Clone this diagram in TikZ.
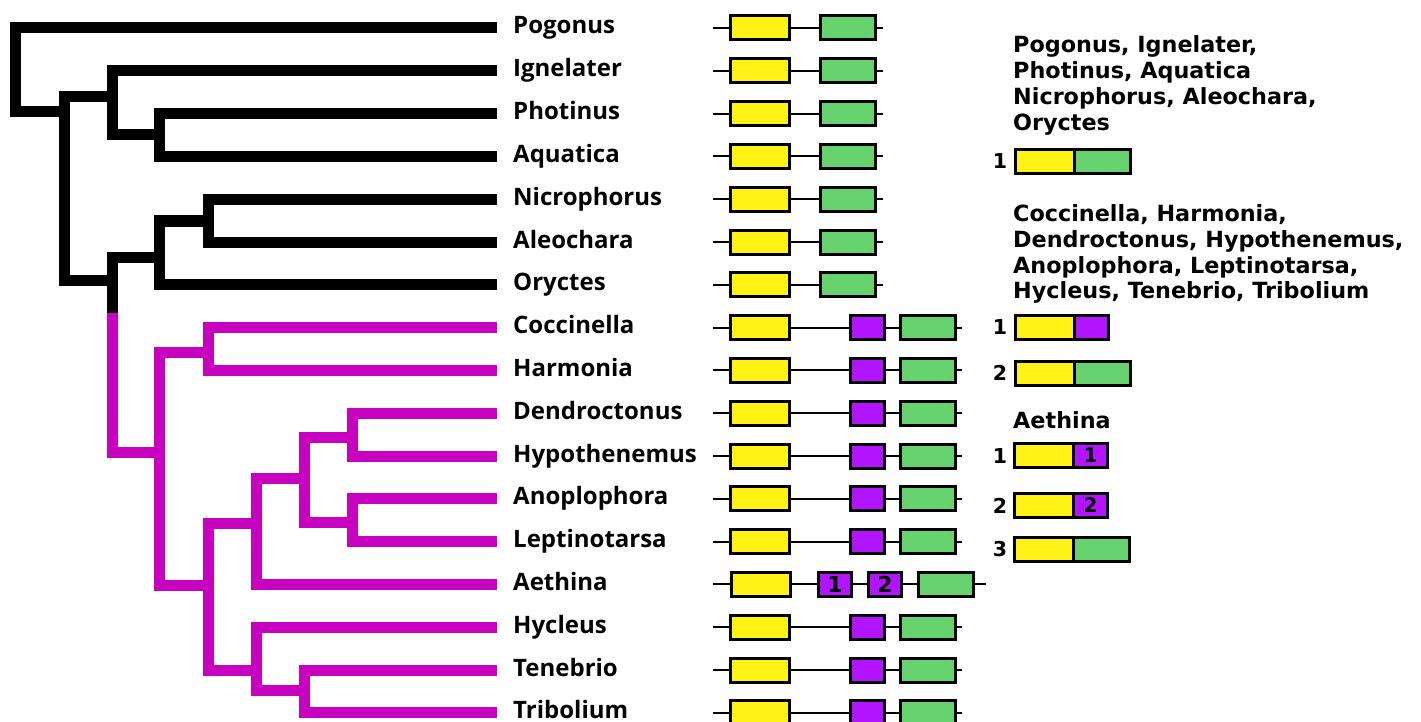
\documentclass[tikz,border=0pt]{standalone}
\usepackage{fontspec}
\newfontfamily\lblfont{Open Sans}
\newfontfamily\djfont{DejaVu Sans}
\definecolor{gyel}{HTML}{FFF316}
\definecolor{ggreen}{HTML}{66D36E}
\definecolor{gpurp}{HTML}{B314FF}
\definecolor{treemag}{HTML}{C800C0}
\begin{document}
\begin{tikzpicture}[x=1pt,y=-1pt,
  br/.style={line width=11pt, line join=miter, line cap=butt},
  blk/.style={br, draw=black},
  mag/.style={br, draw=treemag},
  lbl/.style={anchor=base west, font=\lblfont\bfseries\fontsize{24}{28}\selectfont, inner sep=0pt},
  rtxt/.style={anchor=base west, font=\djfont\bfseries\fontsize{22.3}{26}\selectfont, inner sep=0pt},
  num/.style={anchor=base, font=\djfont\bfseries\fontsize{20.5}{24}\selectfont, inner sep=0pt},
  box/.style={draw=black, line width=3pt, inner sep=0pt, minimum height=24pt, anchor=center},
  ybox/.style={box, fill=gyel, minimum width=59pt},
  gbox/.style={box, fill=ggreen, minimum width=55pt},
  pbox/.style={box, fill=gpurp, minimum width=34pt},
  lgbox/.style={box, fill=ggreen, minimum width=56pt},
  dig/.style={font=\djfont\bfseries\fontsize{22}{22}\selectfont},
  gline/.style={line width=2pt, draw=black},
]
\useasboundingbox (0,0) rectangle (1421,722);

% leaves and labels
\foreach \n/\t [count=\i from 0] in {pog/Pogonus, ign/Ignelater, pho/Photinus, aqu/Aquatica, nic/Nicrophorus, ale/Aleochara, ory/Oryctes, coc/Coccinella, har/Harmonia, den/Dendroctonus, hyp/Hypothenemus, ano/Anoplophora, lep/Leptinotarsa, aet/Aethina, hyc/Hycleus, ten/Tenebrio, tri/Tribolium} {
  \coordinate (\n) at (497, 28+42.8*\i);
  \node[lbl] (\n-l) at (513, 34+42.8*\i) {\t};
}

% internal nodes
\coordinate (R) at (15,70);
\coordinate (A) at (64,112);
\coordinate (B) at (112,97);
\coordinate (C) at (159,135);
\coordinate (D) at (112,280);
\coordinate (Dsplit) at (112,313);
\coordinate (E) at (159,257);
\coordinate (G) at (208,221);
\coordinate (F) at (159,452);
\coordinate (H) at (208,352);
\coordinate (I) at (208,585);
\coordinate (J) at (256,523);
\coordinate (K) at (304,478);
\coordinate (L) at (352,437);
\coordinate (M) at (352,522);
\coordinate (N) at (256,670);
\coordinate (O) at (304,690);

% tree
\draw[blk] (pog) -| (R |- A) -- (A);
\draw[blk] (B) -| (A |- D) -- (D);
\draw[blk] (ign) -| (B |- C) -- (C);
\draw[blk] (pho) -| (C |- aqu) -- (aqu);
\draw[blk] (E) -| (Dsplit);
\draw[mag] (Dsplit) |- (F);
\draw[blk] (G) -| (E |- ory) -- (ory);
\draw[blk] (nic) -| (G |- ale) -- (ale);
\draw[mag] (H) -| (F |- I) -- (I);
\draw[mag] (coc) -| (H |- har) -- (har);
\draw[mag] (J) -| (I |- N) -- (N);
\draw[mag] (K) -| (J |- aet) -- (aet);
\draw[mag] (L) -| (K |- M) -- (M);
\draw[mag] (den) -| (L |- hyp) -- (hyp);
\draw[mag] (ano) -| (M |- lep) -- (lep);
\draw[mag] (hyc) -| (N |- O) -- (O);
\draw[mag] (ten) -| (O |- tri) -- (tri);

% gene structures, black clade
\foreach \i in {0,...,6} {
  \pgfmathsetmacro\yy{28+42.8*\i}
  \node[ybox] (y\i) at (760,\yy) {};
  \node[gbox] (g\i) at (848,\yy) {};
  \coordinate (s\i) at (713,\yy);
  \coordinate (e\i) at (883,\yy);
  \draw[gline] (s\i) -- (y\i) (y\i) -- (g\i) (g\i) -- (e\i);
}
% gene structures, magenta clade
\foreach \i in {7,8,9,10,11,12,14,15,16} {
  \pgfmathsetmacro\yy{28+42.8*\i}
  \node[ybox] (y\i) at (760,\yy) {};
  \node[pbox] (p\i) at (867.5,\yy) {};
  \node[gbox] (g\i) at (928,\yy) {};
  \coordinate (s\i) at (713,\yy);
  \coordinate (e\i) at (962,\yy);
  \draw[gline] (s\i) -- (y\i) (y\i) -- (p\i) (p\i) -- (g\i) (g\i) -- (e\i);
}
% Aethina
\node[ybox] (y13) at (761,584.4) {};
\node[pbox, minimum width=33pt, dig] (pa13) at (835,584.4) {1};
\node[pbox, minimum width=33pt, dig] (pb13) at (885,584.4) {2};
\node[gbox] (g13) at (946,584.4) {};
\coordinate (s13) at (713,584.4);
\coordinate (e13) at (986,584.4);
\draw[gline] (s13) -- (y13) (y13) -- (pa13) (pa13) -- (pb13) (pb13) -- (g13) (g13) -- (e13);

% right panel
\node[rtxt] (t1a) at (1013,53) {Pogonus, Ignelater,};
\node[rtxt] (t1b) at (1013,79) {Photinus, Aquatica};
\node[rtxt] (t1c) at (1013,105) {Nicrophorus, Aleochara,};
\node[rtxt] (t1d) at (1013,131) {Oryctes};
\node[num] (n1) at (1000,169) {1};
\node[ybox] (ly1) at (1045,161.5) {};
\node[lgbox] (lg1) at (1102.5,161.5) {};

\node[rtxt] (t2a) at (1013,222) {Coccinella, Harmonia,};
\node[rtxt] (t2b) at (1013,247.5) {Dendroctonus, Hypothenemus,};
\node[rtxt] (t2c) at (1013,273) {Anoplophora, Leptinotarsa,};
\node[rtxt] (t2d) at (1013,298.5) {Hycleus, Tenebrio, Tribolium};
\node[num] (n2) at (1000,334.5) {1};
\node[ybox] (ly2) at (1045,327) {};
\node[pbox] (lp2) at (1091.5,327) {};
\node[num] (n3) at (1000,380.5) {2};
\node[ybox] (ly3) at (1045,373) {};
\node[lgbox] (lg3) at (1102.5,373) {};

\node[rtxt] (t3) at (1013,428) {Aethina};
\node[num] (n4) at (1000,463) {1};
\node[ybox] (ly4) at (1044,455.5) {};
\node[pbox, font=\djfont\bfseries\fontsize{20}{20}\selectfont] (lp4) at (1090.5,455.5) {1};
\node[num] (n5) at (1000,513) {2};
\node[ybox] (ly5) at (1044,505.5) {};
\node[pbox, font=\djfont\bfseries\fontsize{20}{20}\selectfont] (lp5) at (1090.5,505.5) {2};
\node[num] (n6) at (1000,556.5) {3};
\node[ybox] (ly6) at (1044,549) {};
\node[lgbox] (lg6) at (1101.5,549) {};
\end{tikzpicture}
\end{document}
